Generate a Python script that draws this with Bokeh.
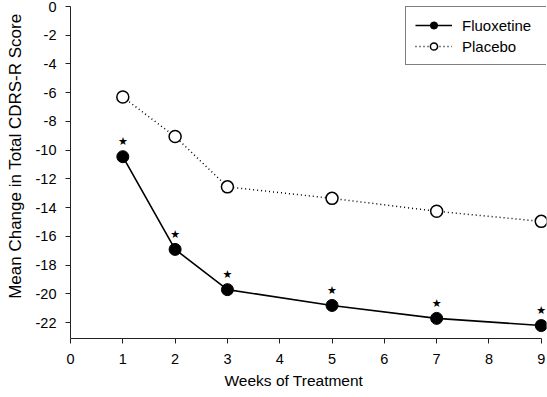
from bokeh.plotting import figure
from bokeh.models import (Range1d, FixedTicker, Legend, LegendItem,
                          ColumnDataSource, Title)
from bokeh.core.properties import value
from bokeh.embed import file_html
from bokeh.resources import INLINE

weeks = [1, 2, 3, 5, 7, 9]
fluoxetine = [-10.45, -16.9, -19.7, -20.8, -21.7, -22.2]
placebo = [-6.3, -9.05, -12.55, -13.35, -14.25, -14.95]
x_ticks = [0, 1, 2, 3, 4, 5, 6, 7, 8, 9]
y_ticks = [0, -2, -4, -6, -8, -10, -12, -14, -16, -18, -20, -22]
y_tick_labels = ["0", "-2", "-4", "-6", "-8", "-10", "-12", "-14", "-16",
                 "-18", "-20", "-22"]
star_marks = ["★"] * len(weeks)
x_title = "Weeks of Treatment"
y_title = "Mean Change in Total CDRS-R Score"

FONT = "Liberation Sans"

p = figure(width=547, height=397, output_backend="svg", toolbar_location=None,
           x_range=Range1d(0, 9.1), y_range=Range1d(-23.1, 0),
           min_border_left=68, min_border_right=1, min_border_top=6,
           min_border_bottom=59)
p.outline_line_color = None
p.xgrid.visible = False
p.ygrid.visible = False
p.background_fill_color = "white"
p.border_fill_color = "white"

for ax in (p.xaxis[0], p.yaxis[0]):
    ax.axis_line_color = "#222222"
    ax.axis_line_width = 1
    ax.major_tick_line_color = "#222222"
    ax.major_tick_out = 5
    ax.major_tick_in = 0
    ax.minor_tick_line_color = None
    ax.major_label_text_font = FONT
    ax.major_label_text_font_size = "14.5px"
    ax.major_label_text_color = "black"

p.xaxis.bounds = (0, 9)
p.xaxis.ticker = FixedTicker(ticks=x_ticks)
p.yaxis.ticker = FixedTicker(ticks=y_ticks)
p.yaxis.major_label_overrides = {t: s for t, s in zip(y_ticks, y_tick_labels)}
p.xaxis.major_label_standoff = 10
p.yaxis.major_label_standoff = 9

src_f = ColumnDataSource(dict(x=weeks, y=fluoxetine, s=star_marks))
src_p = ColumnDataSource(dict(x=weeks, y=placebo))

lp = p.line("x", "y", source=src_p, line_color="black", line_width=1.5,
            line_dash="1 3")
sp = p.scatter("x", "y", source=src_p, size=12, marker="circle",
               fill_color="white", line_color="black", line_width=1.5)
lf = p.line("x", "y", source=src_f, line_color="black", line_width=1.6)
sf = p.scatter("x", "y", source=src_f, size=12, marker="circle",
               fill_color="black", line_color="black", line_width=1)
p.text("x", "y", text="s", source=src_f, y_offset=-15,
       text_font=value("DejaVu Sans"), text_font_size="11px",
       text_align="center", text_baseline="middle", text_color="black")

p.add_layout(Title(text=y_title, align="right", offset=7, standoff=11,
                   vertical_align="top",
                   text_font=FONT, text_font_size="17px",
                   text_font_style="normal", text_color="black"), "left")
p.add_layout(Title(text=x_title, align="left", offset=154, standoff=7,
                   text_font=FONT, text_font_size="15.5px",
                   text_font_style="normal", text_color="black"), "below")

legend = Legend(items=[LegendItem(label="Fluoxetine", renderers=[lf, sf]),
                       LegendItem(label="Placebo", renderers=[lp, sp])],
                location=(335, 273))
legend.label_text_font = FONT
legend.label_text_font_size = "15px"
legend.label_text_color = "black"
legend.glyph_width = 37
legend.glyph_height = 18
legend.label_width = 78
legend.spacing = 3
legend.padding = 9
legend.margin = 0
legend.label_standoff = 10
legend.border_line_color = "black"
legend.border_line_width = 1
legend.background_fill_color = "white"
legend.background_fill_alpha = 1
p.add_layout(legend)

open("out.html", "w").write(file_html(p, INLINE))
